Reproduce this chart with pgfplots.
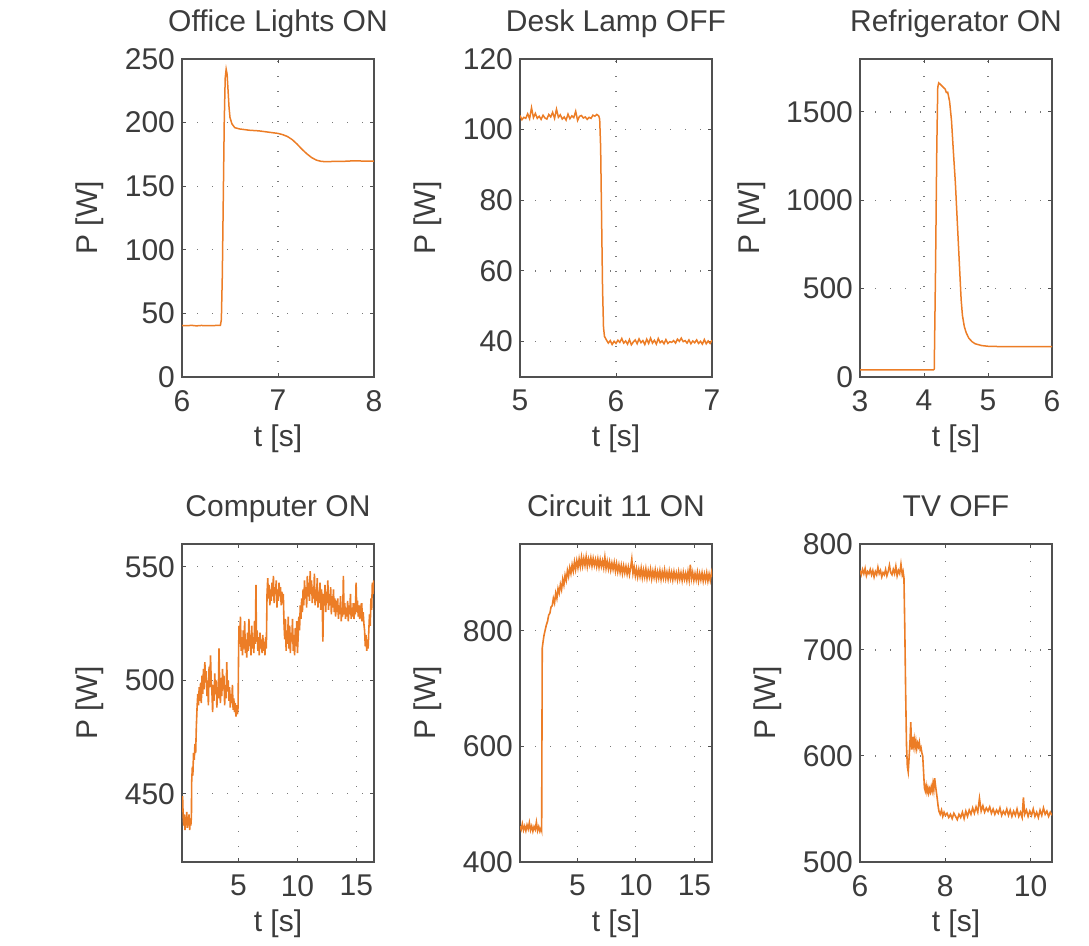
\documentclass[border=0pt]{standalone}
\usepackage{fontspec}
\setmainfont{Liberation Sans}
\usepackage{pgfplots}
\pgfplotsset{compat=1.18}
\definecolor{ln}{RGB}{236,125,38}
\definecolor{axg}{RGB}{80,80,80}
\definecolor{txg}{RGB}{60,60,60}
\definecolor{grd}{RGB}{120,120,120}
\pgfplotsset{
  sub/.style={
    scale only axis, width=96pt, height=159pt, anchor=north west,
    axis line style={draw=axg, line width=0.8pt},
    grid=major,
    major grid style={draw=grd, line width=0.55pt, dash pattern=on 0.6pt off 6.9pt},
    tick align=inside, tick pos=both,
    major tick length=2.2pt,
    tick style={draw=axg, line width=0.5pt},
    /pgf/number format/assume math mode=true,
    /pgf/number format/1000 sep={},
    ticklabel style={font=\fontsize{15}{15}\selectfont, text=txg},
    xticklabel style={yshift=-3pt},
    label style={font=\fontsize{15}{15}\selectfont, text=txg},
    ylabel style={yshift=3.5pt},
    title style={font=\fontsize{15}{15}\selectfont, text=txg, at={(0.5,1)}, anchor=base, yshift=7.5pt},
    xlabel={t [s]}, ylabel={P [W]},
  },
}
\begin{document}
\begin{tikzpicture}
\useasboundingbox (0,0) rectangle (544.5pt,-473pt);
% Office Lights ON
\begin{axis}[sub, at={(91pt,-29.5pt)}, title={Office Lights ON},
  xmin=6, xmax=8, ymin=0, ymax=250, xtick={6,7,8}, ytick={0,50,...,250}]
\addplot[ln, line width=0.75pt] coordinates {
(6.00,40.5)(6.05,40.3)(6.10,40.6)(6.15,40.2)(6.20,40.5)(6.25,40.4)(6.30,40.3)(6.35,40.5)(6.40,40.6)
(6.41,45)(6.42,80)(6.43,140)(6.44,200)(6.45,235)(6.46,242)(6.47,238)(6.48,225)(6.49,212)(6.50,204)
(6.52,199)(6.55,196)(6.60,195)(6.70,194)(6.80,193.5)(6.90,192.5)(7.00,191.5)(7.05,190.5)(7.10,189)
(7.15,186.5)(7.20,183)(7.25,179)(7.30,175.5)(7.35,172.5)(7.40,170.5)(7.45,169.5)(7.50,169.3)
(7.60,169.5)(7.70,169.6)(7.80,170)(7.90,169.7)(8.00,169.8)};
\end{axis}
% Desk Lamp OFF
\begin{axis}[sub, at={(260pt,-29.5pt)}, title={Desk Lamp OFF},
  xmin=5, xmax=7, ymin=30, ymax=120, xtick={5,6,7}, ytick={40,60,...,120}]
\addplot[ln, line width=0.75pt] coordinates {
(5.00,104.0)(5.02,102.8)(5.04,103.5)(5.06,103.2)(5.08,104.5)(5.10,103.1)(5.12,106.2)(5.14,103.4)
(5.16,104.6)(5.18,103.2)(5.20,103.8)(5.22,102.9)(5.24,104.1)(5.26,103.3)(5.28,103.0)(5.30,104.3)
(5.32,103.6)(5.34,104.9)(5.36,103.2)(5.38,105.8)(5.40,103.5)(5.42,104.2)(5.44,103.0)(5.46,103.6)
(5.48,102.7)(5.50,104.4)(5.52,103.1)(5.54,103.9)(5.56,103.4)(5.58,105.2)(5.60,102.6)(5.62,103.8)
(5.64,104.0)(5.66,103.3)(5.68,103.6)(5.70,102.9)(5.72,103.5)(5.74,103.2)(5.76,104.1)(5.78,103.8)
(5.80,104.3)(5.82,103.9)(5.83,103.0)(5.84,95)(5.85,75)(5.86,55)(5.87,44)(5.88,41.5)
(5.90,40.5)(5.92,39.6)(5.94,40.3)(5.96,39.2)(5.98,40.1)(6.00,39.5)(6.02,40.4)(6.04,39.8)(6.06,40.9)
(6.08,39.6)(6.10,40.2)(6.12,39.3)(6.14,40.6)(6.16,39.1)(6.18,39.9)(6.20,40.5)(6.22,39.4)(6.24,40.8)
(6.26,39.7)(6.28,40.3)(6.30,39.2)(6.32,40.7)(6.34,39.5)(6.36,41.0)(6.38,39.6)(6.40,40.4)(6.42,39.3)
(6.44,40.9)(6.46,39.7)(6.48,40.2)(6.50,39.4)(6.52,40.6)(6.54,39.5)(6.56,40.0)(6.58,39.8)(6.60,40.3)
(6.62,39.6)(6.64,40.7)(6.66,40.1)(6.68,41.0)(6.70,40.0)(6.72,40.3)(6.74,39.6)(6.76,40.5)(6.78,39.4)
(6.80,40.2)(6.82,39.7)(6.84,40.5)(6.86,39.5)(6.88,40.1)(6.90,39.3)(6.92,40.6)(6.94,39.4)(6.96,40.2)
(6.98,39.5)(7.00,40.4)};
\end{axis}
% Refrigerator ON
\begin{axis}[sub, at={(430pt,-29.5pt)}, title={Refrigerator ON},
  xmin=3, xmax=6, ymin=0, ymax=1800, xtick={3,4,5,6}, ytick={0,500,1000,1500}]
\addplot[ln, line width=0.75pt] coordinates {
(3,40)(3.5,40)(4.0,41)(4.15,41)(4.16,45)(4.18,600)(4.20,1300)(4.215,1640)(4.23,1665)(4.26,1655)
(4.30,1640)(4.33,1630)(4.35,1610)(4.37,1612)(4.38,1595)(4.40,1560)(4.43,1450)(4.46,1270)(4.49,1100)
(4.52,880)(4.55,660)(4.58,440)(4.60,350)(4.63,285)(4.66,250)(4.70,220)(4.75,200)(4.80,188)
(4.90,178)(5.00,174)(5.2,172)(5.5,172)(6,172)};
\end{axis}
% Computer ON
\begin{axis}[sub, at={(91pt,-272pt)}, title={Computer ON},
  xmin=0.2, xmax=16.5, ymin=420, ymax=560, xtick={5,10,15}, ytick={450,500,550}]
\addplot[ln, line width=0.8pt] coordinates {
(0.20,445)(0.25,449)(0.30,440)(0.35,436)(0.40,441)(0.45,434)(0.50,439)(0.55,437)(0.60,442)(0.65,435)
(0.70,440)(0.75,436)(0.80,441)(0.85,434)(0.90,439)(0.95,436)(1.00,440)
(1.02,455)(1.08,462)(1.12,458)(1.18,468)(1.24,465)(1.30,472)(1.36,468)(1.42,480)(1.48,488)(1.54,494)
(1.60,489)(1.66,497)(1.72,491)(1.78,499)(1.84,490)(1.90,502)(1.96,494)(2.02,505)(2.08,496)(2.14,508)
(2.20,499)(2.26,504)(2.32,493)(2.38,500)(2.44,489)(2.50,506)(2.56,497)(2.62,511)(2.68,500)(2.74,495)
(2.80,486)(2.86,498)(2.92,491)(2.98,503)(3.04,494)(3.10,500)(3.16,488)(3.22,497)(3.28,492)(3.34,514)
(3.40,498)(3.46,490)(3.52,501)(3.58,493)(3.64,505)(3.70,496)(3.76,502)(3.82,489)(3.88,498)(3.94,492)
(4.00,508)(4.06,495)(4.12,500)(4.18,491)(4.24,497)(4.30,488)(4.36,494)(4.42,490)(4.48,498)(4.54,487)
(4.60,492)(4.66,486)(4.72,490)(4.78,484)(4.84,489)(4.90,485)(4.96,488)
(5.00,510)(5.04,524)(5.10,516)(5.16,528)(5.22,513)(5.28,519)(5.34,511)(5.40,522)(5.46,514)(5.52,526)
(5.58,512)(5.64,518)(5.70,510)(5.76,521)(5.82,513)(5.88,527)(5.94,515)(6.00,520)(6.06,511)(6.12,524)
(6.18,514)(6.24,519)(6.30,512)(6.36,526)(6.42,516)(6.48,542)(6.52,517)(6.58,522)(6.64,513)(6.70,519)
(6.76,511)(6.82,521)(6.88,514)(6.94,518)(7.00,512)(7.06,520)(7.12,513)(7.18,517)(7.24,511)(7.30,519)
(7.36,514)
(7.42,538)(7.48,545)(7.54,536)(7.60,542)(7.66,533)(7.72,540)(7.78,535)(7.84,543)(7.90,537)(7.96,546)
(8.02,534)(8.08,541)(8.14,538)(8.20,544)(8.26,532)(8.32,540)(8.38,535)(8.44,543)(8.50,537)(8.56,541)
(8.62,533)(8.68,539)(8.74,534)(8.80,538)
(8.86,525)(8.92,518)(8.98,527)(9.04,513)(9.10,522)(9.16,516)(9.22,528)(9.28,514)(9.34,524)(9.40,512)
(9.46,521)(9.52,517)(9.58,527)(9.64,513)(9.70,520)(9.76,511)(9.82,523)(9.88,515)(9.94,526)(10.00,512)
(10.06,519)(10.12,528)(10.18,522)(10.24,533)(10.30,527)(10.36,536)(10.42,530)
(10.48,540)(10.54,533)(10.60,544)(10.66,536)(10.72,541)(10.78,532)(10.84,546)(10.90,537)(10.96,543)
(11.02,535)(11.08,548)(11.14,538)(11.20,544)(11.26,534)(11.32,541)(11.38,536)(11.44,547)(11.50,533)
(11.56,540)(11.62,535)(11.68,545)(11.74,532)(11.80,539)(11.86,534)(11.92,543)(11.98,531)(12.04,540)
(12.10,536)(12.16,517)(12.22,538)(12.28,533)(12.34,542)(12.40,530)(12.46,539)(12.52,534)(12.58,544)
(12.64,531)(12.70,538)(12.76,533)(12.82,541)(12.88,529)(12.94,537)(13.00,532)(13.06,540)(13.12,530)
(13.18,536)(13.24,528)(13.30,535)
(13.36,530)(13.42,536)(13.48,527)(13.54,533)(13.60,529)(13.66,537)(13.72,526)(13.78,532)(13.84,528)
(13.90,546)(13.96,529)(14.02,534)(14.08,527)(14.14,532)(14.20,528)(14.26,535)(14.32,526)(14.38,533)
(14.44,529)(14.50,538)(14.56,527)(14.62,532)(14.68,528)(14.74,534)(14.80,527)(14.86,531)(14.92,529)
(14.98,543)(15.04,530)(15.10,535)(15.16,528)(15.22,533)(15.28,527)(15.34,531)(15.40,529)(15.46,534)
(15.52,526)(15.58,530)(15.64,525)
(15.70,522)(15.76,515)(15.82,520)(15.88,513)(15.94,518)(16.00,514)(16.06,522)(16.12,529)(16.18,524)
(16.24,536)(16.30,531)(16.36,543)(16.42,538)(16.48,544)};
\end{axis}
% Circuit 11 ON
\begin{axis}[sub, at={(260pt,-272pt)}, title={Circuit 11 ON},
  xmin=0.1, xmax=16.5, ymin=400, ymax=950, xtick={5,10,15}, ytick={400,600,800}]
\addplot[ln, line width=0.8pt] coordinates {
(0.1,462)(0.2,456)(0.3,466)(0.4,455)(0.5,462)(0.6,454)(0.7,464)(0.8,457)(0.9,468)(1.0,455)(1.1,462)
(1.2,453)(1.3,461)(1.4,456)(1.5,469)(1.6,454)(1.7,461)(1.8,453)(1.9,459)(1.95,455)
(2.00,770)(2.05,778)(2.15,792)(2.25,801)(2.35,810)(2.45,816)(2.55,827)(2.65,830)(2.75,841)(2.85,843)
(2.95,856)(3.05,848)(3.15,865)(3.25,856)(3.35,873)(3.45,865)(3.55,880)(3.65,871)(3.75,889)(3.85,879)
(3.95,896)(4.05,887)(4.15,904)(4.25,894)(4.35,909)(4.45,899)(4.55,914)(4.65,903)(4.75,919)(4.85,906)
(4.95,921)(5.05,909)(5.15,924)(5.25,911)(5.35,927)(5.45,912)(5.55,925)(5.65,913)(5.75,928)(5.85,911)
(5.95,924)(6.05,914)(6.15,926)(6.25,912)(6.35,925)(6.45,913)(6.55,923)(6.65,911)(6.75,924)(6.85,910)
(6.95,923)(7.05,911)(7.15,921)(7.25,909)(7.35,927)(7.45,908)(7.55,920)(7.65,907)(7.75,919)(7.85,905)
(7.95,917)(8.05,906)(8.15,918)(8.25,903)(8.35,916)(8.45,902)(8.55,914)(8.65,901)(8.75,913)(8.85,899)
(8.95,912)(9.05,900)(9.15,911)(9.25,898)(9.35,910)(9.45,897)(9.55,909)(9.65,924)(9.75,899)(9.85,910)
(9.95,895)(10.05,907)(10.15,893)(10.25,906)(10.35,894)(10.45,908)(10.55,892)(10.65,905)(10.75,893)
(10.85,907)(10.95,891)(11.05,904)(11.15,893)(11.25,906)(11.35,890)(11.45,903)(11.55,892)(11.65,905)
(11.75,890)(11.85,902)(11.95,891)(12.05,904)(12.15,889)(12.25,902)(12.35,891)(12.45,905)(12.55,890)
(12.65,901)(12.75,889)(12.85,903)(12.95,890)(13.05,901)(13.15,888)(13.25,902)(13.35,890)(13.45,900)
(13.55,888)(13.65,902)(13.75,889)(13.85,900)(13.95,887)(14.05,901)(14.15,889)(14.25,899)(14.35,887)
(14.45,902)(14.55,888)(14.65,914)(14.75,890)(14.85,901)(14.95,887)(15.05,899)(15.15,888)(15.25,901)
(15.35,886)(15.45,899)(15.55,888)(15.65,900)(15.75,886)(15.85,898)(15.95,887)(16.05,900)(16.15,886)
(16.25,898)(16.35,887)(16.45,900)(16.50,893)};
\end{axis}
% TV OFF
\begin{axis}[sub, at={(430pt,-272pt)}, title={TV OFF},
  xmin=6, xmax=10.5, ymin=500, ymax=800, xtick={6,8,10}, ytick={500,600,700,800}]
\addplot[ln, line width=0.8pt] coordinates {
(6.00,775)(6.03,771)(6.06,776)(6.09,772)(6.12,777)(6.15,770)(6.18,774)(6.21,772)(6.24,776)(6.27,771)
(6.30,775)(6.33,769)(6.36,774)(6.39,771)(6.42,778)(6.45,772)(6.48,775)(6.51,769)(6.54,773)(6.57,771)
(6.60,776)(6.63,770)(6.66,774)(6.69,780)(6.72,773)(6.75,771)(6.78,776)(6.81,772)(6.84,779)(6.87,770)
(6.90,775)(6.93,772)(6.96,781)(6.99,771)(7.01,774)(7.03,768)(7.05,720)(7.07,660)(7.09,610)(7.11,590)
(7.13,585)(7.15,598)(7.17,612)(7.19,632)(7.21,606)(7.23,618)(7.25,610)(7.27,616)(7.29,608)(7.31,614)
(7.33,607)(7.35,612)(7.37,609)(7.39,613)(7.41,606)(7.43,608)(7.45,603)(7.47,600)(7.49,585)(7.51,570)
(7.53,567)(7.55,572)(7.57,566)(7.59,570)(7.61,565)(7.63,569)(7.65,566)(7.67,571)(7.69,567)(7.71,574)
(7.73,568)(7.75,579)(7.77,572)(7.79,566)(7.81,560)(7.83,553)(7.85,548)(7.88,545)(7.91,549)(7.94,543)
(7.97,547)(8.00,544)(8.04,546)(8.08,542)(8.12,545)(8.16,541)(8.20,546)(8.24,543)(8.28,540)(8.32,545)
(8.36,542)(8.40,547)(8.44,541)(8.48,548)(8.52,543)(8.56,549)(8.60,545)(8.64,551)(8.68,546)(8.72,552)
(8.76,547)(8.80,560)(8.84,548)(8.88,553)(8.92,547)(8.96,551)(9.00,548)(9.04,552)(9.08,546)(9.12,550)
(9.16,545)(9.20,549)(9.24,546)(9.28,551)(9.32,544)(9.36,548)(9.40,545)(9.44,550)(9.48,544)(9.52,549)
(9.56,543)(9.60,548)(9.64,544)(9.68,550)(9.72,543)(9.76,547)(9.80,542)(9.83,561)(9.86,545)(9.90,549)
(9.94,543)(9.98,548)(10.02,544)(10.06,550)(10.10,543)(10.14,547)(10.18,542)(10.22,549)(10.26,544)
(10.30,551)(10.34,545)(10.38,548)(10.42,543)(10.46,547)(10.50,544)};
\end{axis}
\end{tikzpicture}
\end{document}
